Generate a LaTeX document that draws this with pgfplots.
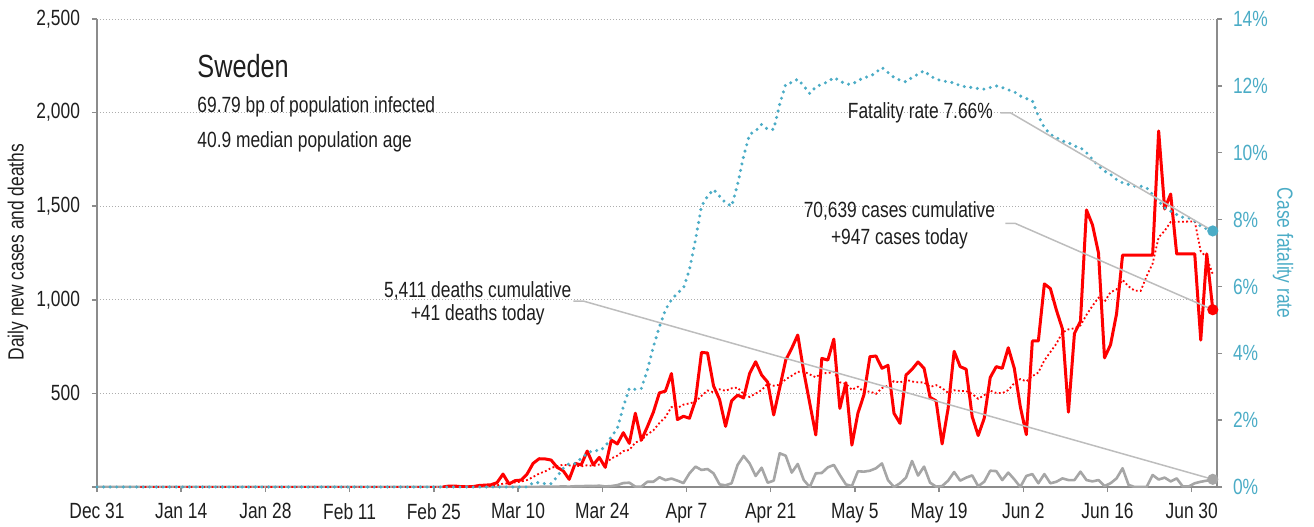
\documentclass[border=0pt]{standalone}
\usepackage{pgfplots}
\pgfplotsset{compat=1.18}
\usepackage{pgfplotstable}
\usepackage{fontspec}
\setmainfont[FakeStretch=0.79]{Liberation Sans}
\definecolor{cfr}{HTML}{4BACC6}
\definecolor{dgrey}{HTML}{A6A6A6}
\definecolor{axgrey}{HTML}{8C8C8C}
\definecolor{ldr}{HTML}{BDBDBD}
\definecolor{txt}{HTML}{1E1E1E}

\pgfplotstableread{
d v
57.5 0
58.5 5
59.5 5
60.5 2
61.5 1
62.5 2
63.5 8
64.5 10
65.5 12
66.5 23
67.5 69
68.5 16
69.5 34
70.5 37
71.5 69
72.5 126
73.5 151
74.5 150
75.5 144
76.5 105
77.5 87
78.5 41
79.5 126
80.5 118
81.5 192
82.5 118
83.5 158
84.5 105
85.5 251
86.5 230
87.5 290
88.5 233
89.5 394
90.5 250
91.5 322
92.5 400
93.5 503
94.5 512
95.5 606
96.5 360
97.5 378
98.5 367
99.5 464
100.5 719
101.5 716
102.5 540
103.5 468
104.5 324
105.5 460
106.5 491
107.5 476
108.5 607
109.5 669
110.5 598
111.5 560
112.5 385
113.5 530
114.5 678
115.5 741
116.5 812
117.5 616
118.5 447
119.5 278
120.5 687
121.5 678
122.5 790
123.5 420
124.5 557
125.5 224
126.5 394
127.5 492
128.5 696
129.5 700
130.5 634
131.5 650
132.5 394
133.5 340
134.5 598
135.5 629
136.5 668
137.5 634
138.5 479
139.5 460
140.5 230
141.5 420
142.5 725
143.5 643
144.5 629
145.5 376
146.5 275
147.5 367
148.5 585
149.5 643
150.5 634
151.5 744
152.5 634
153.5 429
154.5 280
155.5 780
156.5 780
157.5 1085
158.5 1060
159.5 945
160.5 845
161.5 400
162.5 820
163.5 885
164.5 1480
165.5 1400
166.5 1250
167.5 690
168.5 760
169.5 925
170.5 1239
171.5 1239
172.5 1239
173.5 1239
174.5 1239
175.5 1239
176.5 1902
177.5 1485
178.5 1565
179.5 1245
180.5 1245
181.5 1245
182.5 1245
183.5 785
184.5 1245
185.5 947
}\cases

\pgfplotstableread{
d v
6.5 0
57.5 0
58.5 0.7
59.5 1.4
60.5 1.7
61.5 1.9
62.5 2.1
63.5 3.3
64.5 4.7
65.5 5.7
66.5 8.3
67.5 17.9
68.5 20
69.5 24.6
70.5 28.7
71.5 37.1
72.5 53.4
73.5 71.7
74.5 83.3
75.5 101.6
76.5 111.7
77.5 118.9
78.5 114.9
79.5 114.9
80.5 110.1
81.5 116.1
82.5 112.4
83.5 120
84.5 122.6
85.5 152.6
86.5 167.4
87.5 192
88.5 197.9
89.5 237.3
90.5 250.4
91.5 281.4
92.5 302.7
93.5 341.7
94.5 373.4
95.5 426.7
96.5 421.9
97.5 440.1
98.5 446.6
99.5 455.7
100.5 486.6
101.5 515.7
102.5 506.3
103.5 521.7
104.5 514
105.5 527.3
106.5 531.1
107.5 496.4
108.5 480.9
109.5 499.3
110.5 517.9
111.5 551.6
112.5 540.9
113.5 546.4
114.5 575.3
115.5 594.4
116.5 614.9
117.5 617.4
118.5 601.3
119.5 586
120.5 608.4
121.5 608.4
122.5 615.4
123.5 559.4
124.5 551
125.5 519.1
126.5 535.7
127.5 507.9
128.5 510.4
129.5 497.6
130.5 528.1
131.5 541.4
132.5 565.7
133.5 558
134.5 573.1
135.5 563.6
136.5 559
137.5 559
138.5 534.6
139.5 544
140.5 528.3
141.5 502.9
142.5 516.6
143.5 513
144.5 512.3
145.5 497.6
146.5 471.1
147.5 490.7
148.5 514.3
149.5 502.6
150.5 501.3
151.5 517.7
152.5 554.6
153.5 576.6
154.5 564.1
155.5 592
156.5 611.6
157.5 676
158.5 721.1
159.5 765.6
160.5 825
161.5 842.1
162.5 847.9
163.5 862.9
164.5 919.3
165.5 967.9
166.5 1011.4
167.5 989.3
168.5 1040.7
169.5 1055.7
170.5 1106.3
171.5 1071.9
172.5 1048.9
173.5 1047.3
174.5 1125.7
175.5 1194.1
176.5 1333.7
177.5 1368.9
178.5 1415.4
179.5 1416.3
180.5 1417.1
181.5 1418
182.5 1418.9
183.5 1259.3
184.5 1225
185.5 1136.7
}\avg

\pgfplotstableread{
d v
0 0
69.5 0
70.5 1
71.5 0
72.5 1
73.5 1
74.5 2
75.5 1
76.5 2
77.5 3
78.5 2
79.5 4
80.5 4
81.5 6
82.5 5
83.5 7
84.5 3
85.5 5
86.5 10
87.5 21
88.5 23
89.5 2
90.5 2
91.5 28
92.5 28
93.5 52
94.5 37
95.5 45
96.5 34
97.5 21
98.5 73
99.5 109
100.5 91
101.5 96
102.5 73
103.5 14
104.5 9
105.5 20
106.5 118
107.5 166
108.5 126
109.5 59
110.5 103
111.5 23
112.5 34
113.5 180
114.5 167
115.5 77
116.5 123
117.5 37
118.5 0
119.5 73
120.5 75
121.5 105
122.5 118
123.5 64
124.5 14
125.5 5
126.5 84
127.5 82
128.5 87
129.5 100
130.5 126
131.5 37
132.5 0
133.5 20
134.5 50
135.5 139
136.5 61
137.5 109
138.5 23
139.5 2
140.5 5
141.5 34
142.5 80
143.5 34
144.5 50
145.5 62
146.5 4
147.5 28
148.5 87
149.5 85
150.5 37
151.5 77
152.5 41
153.5 0
154.5 59
155.5 69
156.5 20
157.5 69
158.5 20
159.5 28
160.5 46
161.5 37
162.5 37
163.5 82
164.5 37
165.5 30
166.5 37
167.5 5
168.5 20
169.5 46
170.5 100
171.5 11
172.5 0
173.5 0
174.5 0
175.5 64
176.5 40
177.5 50
178.5 30
179.5 46
180.5 3
181.5 3
182.5 20
183.5 28
184.5 34
185.5 41
}\deaths

\pgfplotstableread{
d v
0 0
71.5 0
72.5 0.13
73.5 0.13
74.5 0.1
75.5 0.1
76.5 0.31
77.5 0.56
78.5 0.70
79.5 0.70
80.5 0.86
81.5 1.0
82.5 1.1
83.5 1.08
84.5 1.21
85.5 1.5
86.5 1.75
87.5 2.4
88.5 2.95
89.5 2.92
90.5 2.95
91.5 3.5
92.5 4.2
93.5 4.79
94.5 5.3
95.5 5.6
96.5 5.8
97.5 5.95
98.5 6.5
99.5 7.4
100.5 8.4
101.5 8.7
102.5 8.9
103.5 8.7
104.5 8.5
105.5 8.4
106.5 9.05
107.5 9.9
108.5 10.55
109.5 10.65
110.5 10.85
111.5 10.7
112.5 10.7
113.5 11.45
114.5 12.05
115.5 12.1
116.5 12.2
117.5 12.0
118.5 11.77
119.5 11.97
120.5 12.05
121.5 12.12
122.5 12.25
123.5 12.15
124.5 12.05
125.5 12.05
126.5 12.15
127.5 12.25
128.5 12.28
129.5 12.4
130.5 12.55
131.5 12.4
132.5 12.25
133.5 12.17
134.5 12.12
135.5 12.25
136.5 12.35
137.5 12.45
138.5 12.3
139.5 12.2
140.5 12.15
141.5 12.12
142.5 12.09
143.5 12.0
144.5 11.97
145.5 11.95
146.5 11.92
147.5 11.9
148.5 11.95
149.5 12.0
150.5 11.95
151.5 11.88
152.5 11.82
153.5 11.7
154.5 11.62
155.5 11.55
156.5 11.1
157.5 10.75
158.5 10.55
159.5 10.45
160.5 10.35
161.5 10.3
162.5 10.2
163.5 10.15
164.5 10.0
165.5 9.8
166.5 9.6
167.5 9.45
168.5 9.35
169.5 9.2
170.5 9.1
171.5 9.05
172.5 9.0
173.5 9.0
174.5 8.95
175.5 8.75
176.5 8.55
177.5 8.35
178.5 8.25
179.5 8.15
180.5 8.07
181.5 8.05
182.5 7.95
183.5 7.8
184.5 7.72
185.5 7.66
}\rate

\pgfplotsset{
  common/.style={
    at={(0,0)}, anchor=south west,
    scale only axis, width=560pt, height=234pt,
    xmin=0, xmax=186.2,
    axis line style={axgrey, line width=0.75pt},
    tick style={axgrey, line width=0.75pt},
    major tick length=2.5pt, tick align=outside,
    ticklabel style={font=\fontsize{11}{13}\selectfont, text=txt},
  }
}

\begin{document}
\begin{tikzpicture}
\useasboundingbox (-48.5pt,-19.5pt) rectangle (608.5pt,243.5pt);
\begin{axis}[common,
  ymin=0, ymax=2500,
  axis x line*=bottom, axis y line*=left,
  xtick={0,14,...,182},
  xticklabels={Dec 31,Jan 14,Jan 28,Feb 11,Feb 25,Mar 10,Mar 24,Apr 7,Apr 21,May 5,May 19,Jun 2,Jun 16,Jun 30},
  xticklabel style={yshift=-2pt},
  ytick={0,500,...,2500},
  yticklabels={{},500,{1,000},{1,500},{2,000},{2,500}},
  yticklabel style={xshift=-2.5pt},
  ymajorgrids,
  grid style={color=black!32, line width=0.5pt, dash pattern=on 0.5pt off 1pt},
]
\addplot[dgrey, line width=1.3pt, line join=round] table[x=d,y=v] {\deaths};
\addplot[red, line width=0.9pt, dash pattern=on 0.9pt off 1.2pt] table[x=d,y=v] {\avg};
\addplot[red, line width=1.5pt, line join=round] table[x=d,y=v] {\cases};
\end{axis}
\begin{axis}[common, clip=false,
  ymin=0, ymax=14,
  axis x line=none, axis y line*=right,
  ytick={0,2,...,14},
  yticklabels={0\%,2\%,4\%,6\%,8\%,10\%,12\%,14\%},
  yticklabel style={text=cfr, xshift=2pt},
]
\addplot[cfr, line width=1.7pt, line cap=round, dash pattern=on 0pt off 3.3pt] table[x=d,y=v] {\rate};
% annotations
\draw[ldr, line width=0.75pt] (axis cs:150.2,11.19) -- (axis cs:151.9,11.19) -- (axis cs:185.5,7.66);
\draw[ldr, line width=0.75pt] (axis cs:151.0,7.89) -- (axis cs:152.6,7.89) -- (axis cs:185.5,5.303);
\draw[ldr, line width=0.75pt] (axis cs:79.2,5.56) -- (axis cs:80.9,5.56) -- (axis cs:185.5,0.23);
\fill[cfr] (axis cs:185.5,7.66) circle[radius=2.8pt];
\fill[red] (axis cs:185.5,5.303) circle[radius=2.8pt];
\fill[dgrey] (axis cs:185.5,0.23) circle[radius=2.8pt];
\begin{scope}[every node/.style={font=\fontsize{11}{13}\selectfont, text=txt, inner sep=0pt}]
\node[anchor=base east] at (axis cs:149.0,11.01) {Fatality rate 7.66\%};
\node[anchor=base] at (axis cs:133.4,8.05) {70,639 cases cumulative};
\node[anchor=base] at (axis cs:133.4,7.24) {+947 cases today};
\node[anchor=base] at (axis cs:63.3,5.68) {5,411 deaths cumulative};
\node[anchor=base] at (axis cs:63.3,4.99) {+41 deaths today};
\node[anchor=base west] at (axis cs:16.63,11.19) {69.79 bp of population infected};
\node[anchor=base west] at (axis cs:16.63,10.17) {40.9 median population age};
\node[anchor=base west, font=\fontsize{16}{19}\selectfont] at (axis cs:16.63,12.26) {Sweden};
\node[rotate=90] at (rel axis cs:-0.0705,0.502) {Daily new cases and deaths};
\node[rotate=-90, text=cfr] at (rel axis cs:1.0589,0.5) {Case fatality rate};
\end{scope}
\end{axis}
\end{tikzpicture}
\end{document}
